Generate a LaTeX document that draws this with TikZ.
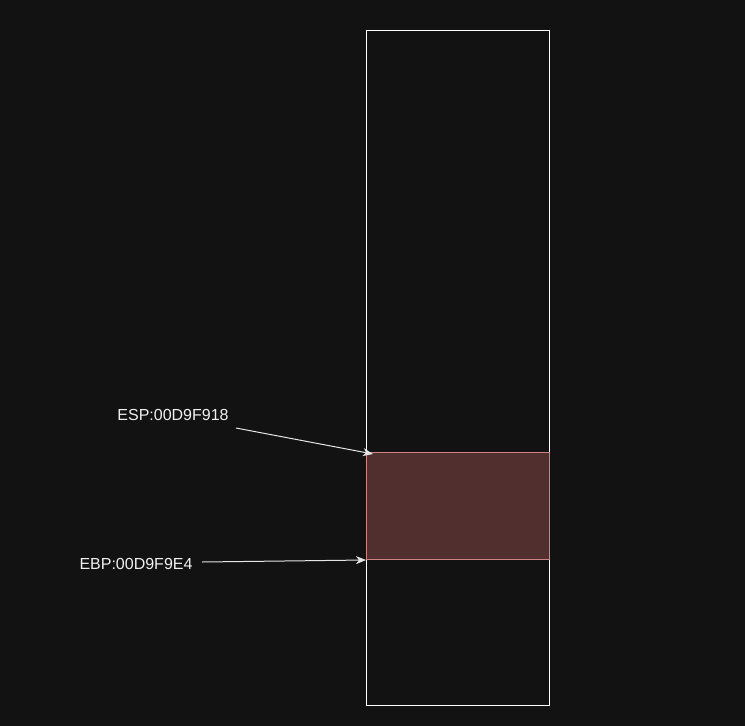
\documentclass[tikz,border=0pt]{standalone}
\usepackage{fontspec}
\setmainfont{Liberation Sans}
\usetikzlibrary{positioning,arrows.meta,calc}
\definecolor{bgdark}{HTML}{121212}
\definecolor{framefill}{HTML}{522F2F}
\definecolor{framedraw}{HTML}{D08484}
\definecolor{ptrcol}{HTML}{E6E6E6}
\tikzset{
  stack/.style={draw=white,line width=1pt,minimum width=183pt,minimum height=675pt,inner sep=0pt},
  frame/.style={draw=framedraw,fill=framefill,line width=1pt,minimum width=183pt,minimum height=107pt,inner sep=0pt},
  reg/.style={text=white!94!black,font=\fontsize{16}{18}\selectfont,inner sep=0pt},
  ptr/.style={draw=ptrcol,line width=1pt,-{Stealth[length=10pt,width=8pt,inset=3pt]}}
}
\begin{document}
\begin{tikzpicture}[x=1pt,y=-1pt]
  \path[fill=bgdark,use as bounding box] (0,0) rectangle (745,726);

  \node[stack,anchor=north west] (stack) at (366,30) {};
  \node[frame,anchor=north west] (frame) at (366,452) {};

  \node[reg] (esp) at (173,415) {ESP:00D9F918};
  \node[reg] (ebp) at (136,564) {EBP:00D9F9E4};

  \coordinate (esp tail) at (236,428);
  \coordinate (ebp tail) at (202,562);
  \coordinate (esp tip) at ($(frame.north west)+(7,2)$);

  \draw[ptr] (esp tail) -- (esp tip);
  \draw[ptr] (ebp tail) -- (frame.south west);
\end{tikzpicture}
\end{document}
